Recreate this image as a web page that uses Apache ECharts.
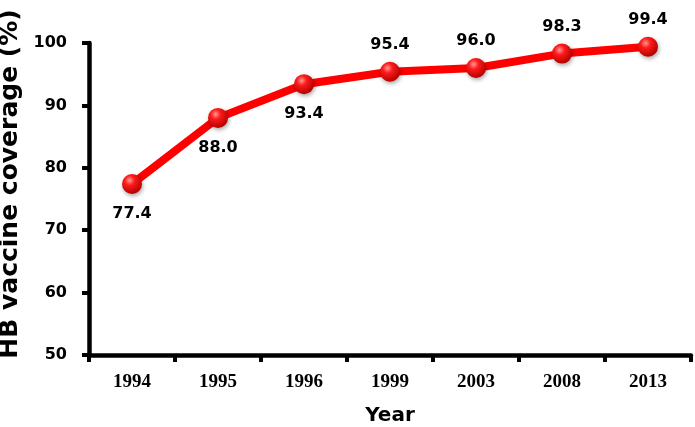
<!DOCTYPE html>
<html><head><meta charset="utf-8">
<script src="https://cdn.jsdelivr.net/npm/echarts@6/dist/echarts.min.js"></script>
<style>html,body{margin:0;padding:0;background:#fff}#c{width:695px;height:427px}</style>
</head><body><div id="c"></div>
<script>
const years = ['1994','1995','1996','1999','2003','2008','2013'];
const coverage = [77.4, 88.0, 93.4, 95.4, 96.0, 98.3, 99.4];
const labelBelow = [true, true, true, false, false, false, false];
const yTicks = [50, 60, 70, 80, 90, 100];

const chart = echarts.init(document.getElementById('c'));
const data = coverage.map((v, i) => ({
  value: v,
  label: { position: labelBelow[i] ? 'bottom' : 'top', distance: labelBelow[i] ? 12 : 9 }
}));
chart.setOption({
  animation: false,
  grid: { left: 89, right: 4, top: 43, bottom: 72, outerBoundsMode: 'none', containLabel: false },
  xAxis: {
    type: 'category', data: years, boundaryGap: true,
    name: 'Year', nameLocation: 'middle', nameGap: 51,
    nameTextStyle: { fontFamily: 'DejaVu Sans', fontWeight: 'bold', fontSize: 20, color: '#000' },
    axisLine: { lineStyle: { color: '#000', width: 4.5 } },
    axisTick: { show: true, length: 7, lineStyle: { color: '#000', width: 4 } },
    axisLabel: { fontFamily: 'Liberation Serif', fontWeight: 'bold', fontSize: 19, color: '#000', margin: 18 }
  },
  yAxis: {
    type: 'value', min: yTicks[0], max: yTicks[yTicks.length - 1], interval: 10,
    name: 'HB vaccine coverage (%)', nameLocation: 'middle', nameGap: 63,
    nameTextStyle: { fontFamily: 'DejaVu Sans', fontWeight: 'bold', fontSize: 25, color: '#000', padding: [0, 0, 0, 30] },
    axisLine: { show: true, lineStyle: { color: '#000', width: 4.5 } },
    axisTick: { show: true, length: 7, lineStyle: { color: '#000', width: 4 } },
    splitLine: { show: false },
    axisLabel: { fontFamily: 'DejaVu Sans', fontWeight: 'bold', fontSize: 16, color: '#000', margin: 22 }
  },
  series: [{
    type: 'line', data: data,
    lineStyle: { color: '#ff0000', width: 8 },
    symbol: 'circle', symbolSize: 20,
    itemStyle: {
      color: { type: 'radial', x: 0.38, y: 0.32, r: 0.7, colorStops: [
        { offset: 0, color: '#ff9a9a' }, { offset: 0.35, color: '#ff1a1a' }, { offset: 1, color: '#b00000' } ] },
      shadowColor: 'rgba(0,0,0,0.35)', shadowBlur: 4, shadowOffsetX: 1, shadowOffsetY: 2
    },
    label: { show: true, formatter: p => p.value.toFixed(1), fontFamily: 'DejaVu Sans', fontWeight: 'bold', fontSize: 16, color: '#000' }
  }]
});
</script></body></html>
